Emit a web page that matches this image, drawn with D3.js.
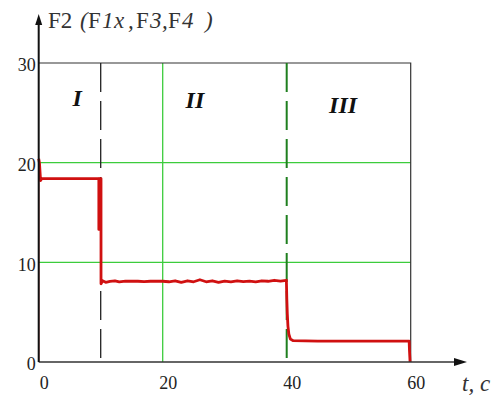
<!DOCTYPE html>
<html>
<head>
<meta charset="utf-8">
<script src="https://cdn.jsdelivr.net/npm/d3@7"></script>
<style>
  body { margin: 0; background: #fff; }
  svg { display: block; }
</style>
</head>
<body>
<svg class="chart"></svg>
<script>
const width = 496,
  height = 399,
  red = "#d01010",
  green = "#3ccc3c",
  darkGreen = "#1f7f1f",
  serif = '"Liberation Serif"';

// series
const time = [0, 0, 0.12, 0.3, 0.5, 0.8, 5, 9.7, 9.7, 9.78, 9.9, 10.05, 10.05,
  10.3, 10.8, 11.5, 12.3, 13, 14, 15, 16, 17, 18, 19, 20, 21, 22, 23, 24, 25, 26,
  27, 28, 29, 30, 31, 32, 33, 34, 35, 36, 37, 38, 39, 39.95,
  40.02, 40.1, 40.2, 40.35, 40.6, 41, 45, 50, 55, 59.75, 59.8, 59.9];
const force = [0, 20.4, 20.0, 18.2, 18.4, 18.4, 18.4, 18.4, 13.3, 18.4, 18.4, 18.4, 7.85,
  8.15, 8.0, 8.1, 8.15, 8.05, 8.12, 8.1, 8.1, 8.07, 8.1, 8.1, 8.1, 8.05, 8.15, 8.0, 8.15, 8.05, 8.25,
  8.05, 8.15, 8.0, 8.12, 8.05, 8.15, 8.07, 8.12, 8.05, 8.15, 8.1, 8.2, 8.12, 8.2,
  6.3, 4.8, 3.6, 2.8, 2.3, 2.15, 2.1, 2.1, 2.1, 2.1, 1.2, 0];

const xTicks = [0, 20, 40, 60];
const yTicks = [0, 10, 20, 30];
const gridX = [20];
const gridY = [10, 20];
const stageBounds = [10, 40];
const stageNames = ["I", "II", "III"];
const stageCenters = [6.2, 25.2, 49.1];
const titleParts = ["F2", "(", "F", "1", "x", ",", "F", "3", ",", "F", "4", ")"];

var x = d3.scaleLinear().domain([0, 60]).range([38.7, 410.7]);
var y = d3.scaleLinear().domain([0, 30]).range([362, 63]);

var chart = d3.select(".chart")
  .attr("width", width)
  .attr("height", height);

// green grid
chart.append("g").selectAll("line")
  .data(gridY)
  .enter().append("line")
  .attr("x1", x(0)).attr("x2", x(60))
  .attr("y1", d => y(d)).attr("y2", d => y(d))
  .attr("stroke", green).attr("stroke-width", 1.3);
chart.append("g").selectAll("line")
  .data(gridX)
  .enter().append("line")
  .attr("x1", d => x(d)).attr("x2", d => x(d))
  .attr("y1", y(0)).attr("y2", y(30))
  .attr("stroke", green).attr("stroke-width", 1.3);

// frame (top, right)
chart.append("path")
  .attr("d", `M${x(0)},${y(30)}H${x(60)}V${y(0)}`)
  .attr("fill", "none")
  .attr("stroke", "#333")
  .attr("stroke-width", 1.2);

// stage boundaries
chart.append("g").selectAll("line")
  .data(stageBounds)
  .enter().append("line")
  .attr("x1", d => x(d)).attr("x2", d => x(d))
  .attr("y1", y(30)).attr("y2", y(0))
  .attr("stroke", (d, i) => i === 0 ? "#222" : darkGreen)
  .attr("stroke-width", (d, i) => i === 0 ? 1.3 : 2)
  .attr("stroke-dasharray", "29,9");

// red curve
var pts = time.map((t, i) => [t, force[i]]);
chart.append("path")
  .datum(pts.slice(0, 2))
  .attr("d", d3.line().x(d => x(d[0])).y(d => y(d[1])))
  .attr("fill", "none")
  .attr("stroke", red)
  .attr("stroke-width", 1.3);
chart.append("path")
  .datum(pts.slice(1))
  .attr("d", d3.line().x(d => x(d[0])).y(d => y(d[1])))
  .attr("fill", "none")
  .attr("stroke", red)
  .attr("stroke-width", 2.8)
  .attr("stroke-linejoin", "round");

// axes
chart.append("line")
  .attr("x1", x(0)).attr("x2", 458)
  .attr("y1", y(0)).attr("y2", y(0))
  .attr("stroke", "#333").attr("stroke-width", 1.5);
chart.append("path")
  .attr("d", `M467,${y(0)}L454,${y(0) - 4}L454,${y(0) + 4}Z`)
  .attr("fill", "#111");
chart.append("line")
  .attr("x1", x(0)).attr("x2", x(0))
  .attr("y1", y(0)).attr("y2", 22)
  .attr("stroke", "#111").attr("stroke-width", 2);
chart.append("path")
  .attr("d", `M${x(0)},14L${x(0) - 3.5},25L${x(0) + 3.5},25Z`)
  .attr("fill", "#111");

var xAxis = d3.axisBottom(x).tickValues(xTicks).tickSize(0).tickPadding(14);
chart.append("g")
  .attr("transform", `translate(5, ${y(0)})`)
  .call(xAxis)
  .call(g => g.select(".domain").remove())
  .selectAll("text")
  .style("font-family", serif)
  .style("font-size", "18px")
  .attr("fill", "#222");

var yAxis = d3.axisLeft(y).tickValues(yTicks).tickSize(0).tickPadding(3);
chart.append("g")
  .attr("transform", `translate(${x(0)}, 2)`)
  .call(yAxis)
  .call(g => g.select(".domain").remove())
  .selectAll("text")
  .style("font-family", serif)
  .style("font-size", "18px")
  .attr("fill", "#222");

// stage labels
chart.append("g").selectAll("text")
  .data(stageNames)
  .enter().append("text")
  .attr("x", (d, i) => x(stageCenters[i]))
  .attr("y", (d, i) => [106, 108, 113][i])
  .attr("text-anchor", "middle")
  .style("font-family", serif)
  .style("font-size", "24px")
  .style("font-weight", "bold")
  .style("font-style", "italic")
  .attr("fill", "#111")
  .text(d => d);

// axis titles (Mathcad-like spaced label)
var titleX = [48, 80, 88, 102, 114, 128, 136, 150, 162, 168, 182, 205];
var title = chart.append("text")
  .attr("y", 28)
  .style("font-family", serif)
  .style("font-size", "23px")
  .attr("fill", "#333");
title.selectAll("tspan")
  .data(titleParts)
  .enter().append("tspan")
  .attr("x", (d, i) => titleX[i])
  .style("font-family", serif)
  .style("font-style", (d, i) => [0, 2, 6, 9].includes(i) ? "normal" : "italic")
  .text(d => d);

chart.append("text")
  .attr("x", 462).attr("y", 391)
  .style("font-family", serif)
  .style("font-size", "23px")
  .style("font-style", "italic")
  .attr("fill", "#333")
  .text("t, c");
</script>
</body>
</html>
